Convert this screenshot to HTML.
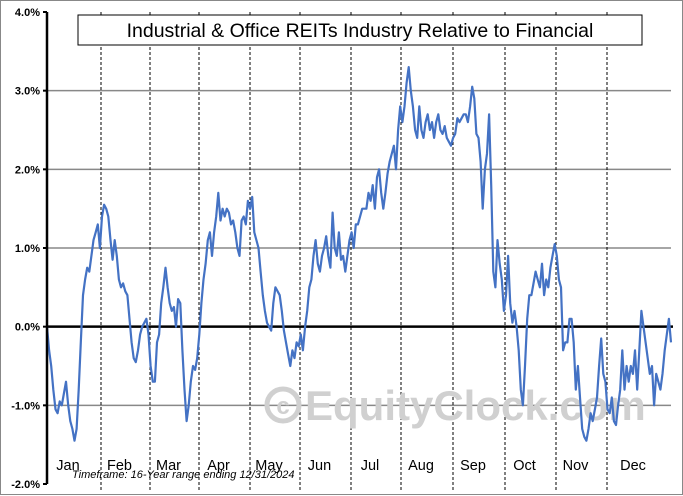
<!DOCTYPE html>
<html><head><meta charset="utf-8"><style>
body{margin:0;background:#fff;}
svg{display:block;font-family:"Liberation Sans",Arial,sans-serif;}
</style></head><body>
<svg id="chart" width="683" height="496">
<rect x="0.5" y="0.5" width="682" height="494" fill="#fff" stroke="#888"/>
<g id="grid"></g>
<g>
<circle cx="283" cy="405" r="16" fill="none" stroke="#d0d0d0" stroke-width="5"/>
<text x="283" y="414" font-size="24" font-weight="bold" fill="#d0d0d0" text-anchor="middle">c</text>
<text x="305" y="420" font-size="42" font-weight="bold" fill="#d0d0d0">EquityClock.com</text>
</g>
<g id="series"></g>
<g id="axes"></g>
<rect x="78" y="15" width="564" height="30" fill="#fff" stroke="#000"/>
<text x="360" y="37" font-size="19.5" text-anchor="middle" fill="#000">Industrial &amp; Office REITs Industry Relative to Financial</text>
<text x="72" y="478" font-size="11" font-style="italic" fill="#000">Timeframe:  16-Year range ending 12/31/2024</text>
</svg>
<script>
const months=["Jan","Feb","Mar","Apr","May","Jun","Jul","Aug","Sep","Oct","Nov","Dec"];
const yTicks=[4,3,2,1,0,-1,-2];
const yTickLabels=["4.0%","3.0%","2.0%","1.0%","0.0%","-1.0%","-2.0%"];
const values=[0,-0.3,-0.5,-0.8,-1.05,-1.1,-0.95,-1.0,-0.85,-0.7,-1.0,-1.2,-1.3,-1.45,-1.3,-0.8,-0.2,0.4,0.6,0.75,0.7,0.9,1.1,1.2,1.3,1.0,1.4,1.55,1.5,1.4,
1.1,0.85,1.1,0.9,0.6,0.5,0.55,0.45,0.4,0.1,-0.2,-0.4,-0.45,-0.3,-0.1,0.0,0.05,0.1,-0.1,-0.5,-0.7,-0.7,
-0.2,-0.1,0.3,0.5,0.75,0.5,0.3,0.2,0.25,0.0,0.35,0.3,-0.3,-0.8,-1.2,-1.0,-0.7,-0.5,-0.55,-0.4,-0.1,0.3,
0.6,0.8,1.1,1.2,0.9,1.2,1.4,1.7,1.35,1.5,1.4,1.5,1.45,1.3,1.35,1.2,1.0,0.9,1.35,1.4,1.3,1.6,1.5,1.65,
1.2,1.1,1.0,0.7,0.4,0.2,0.05,0.0,-0.05,0.3,0.5,0.45,0.4,0.2,-0.05,-0.2,-0.35,-0.5,-0.3,-0.4,-0.2,-0.25,-0.1,
-0.3,0.0,0.2,0.5,0.6,0.9,1.1,0.8,0.7,0.9,1.0,1.15,0.9,0.75,1.45,1.0,0.9,1.2,0.85,0.9,0.7,0.9,1.1,1.2,1.0,
1.3,1.3,1.4,1.5,1.5,1.5,1.7,1.6,1.8,1.5,1.9,2.0,1.7,1.5,1.7,1.95,2.1,2.2,2.3,2.0,2.5,2.8,2.6,2.8,
3.1,3.3,3.0,2.8,2.5,2.4,2.8,2.5,2.4,2.6,2.7,2.5,2.6,2.4,2.6,2.7,2.5,2.45,2.55,2.4,2.35,2.3,2.4,2.45,2.65,2.6,
2.65,2.7,2.7,2.6,2.8,3.05,2.9,2.45,2.4,2.1,1.5,2.0,2.2,2.7,1.8,0.7,0.5,1.1,0.8,0.6,0.2,0.4,0.9,0.3,0.05,
0.2,0.0,-0.3,-0.8,-1.0,-0.5,0.1,0.4,0.4,0.55,0.7,0.6,0.5,0.8,0.4,0.6,0.5,0.75,0.9,1.05,0.9,0.6,0.5,-0.3,-0.2,
-0.2,0.1,0.1,-0.2,-0.8,-0.5,-0.9,-1.3,-1.4,-1.45,-1.3,-1.1,-1.2,-1.05,-0.9,-0.5,-0.15,-0.6,-0.7,-1.05,-1.1,-0.9,-1.2,-1.25,-1.0,
-0.8,-0.3,-0.8,-0.5,-0.7,-0.5,-0.6,-0.3,-0.8,-0.3,0.2,0.0,-0.2,-0.4,-0.6,-0.5,-1.0,-0.6,-0.7,-0.8,-0.6,-0.3,-0.1,0.1,-0.2];
const NS="http://www.w3.org/2000/svg";
const X0=47,X1=671,Y0=12,Y1=484,VMAX=4,VMIN=-2;
const monthBounds=[47,101,150,199,250,300,351,401,453,505,556,607,671];
function y(v){return Y0+(VMAX-v)/(VMAX-VMIN)*(Y1-Y0);}
function x(i){return X0+i/(values.length-1)*(X1-X0);}
function mk(t,a,p){const e=document.createElementNS(NS,t);for(const k in a)e.setAttribute(k,a[k]);p.appendChild(e);return e;}
const grid=document.getElementById('grid'),axes=document.getElementById('axes'),series=document.getElementById('series');
yTicks.forEach((v,i)=>{
 if(v!==0&&v!==4&&v!==-2){const l=mk('line',{x1:X0,x2:X1,y1:y(v),y2:y(v),stroke:'#888','stroke-width':1.5},grid);
 
 }
 const t=mk('text',{x:40,y:y(v)+4,'font-size':11,'font-weight':'bold','text-anchor':'end',fill:'#000'},axes);
 t.textContent=yTickLabels[i];
 
 
 mk('line',{x1:X0-4,x2:X0,y1:y(v),y2:y(v),stroke:'#000','stroke-width':2},axes);
});
months.forEach((m,i)=>{
 if(i>0){const l=mk('line',{x1:monthBounds[i],x2:monthBounds[i],y1:Y0,y2:Y1+7,stroke:'#000','stroke-width':1,'stroke-dasharray':'3,2'},grid);
 
 }
 const t=mk('text',{x:(monthBounds[i]+monthBounds[i+1])/2-6,y:470,'font-size':14.5,'text-anchor':'middle',fill:'#000'},axes);
 t.textContent=m;
 
 
});
const zl=mk('line',{x1:X0,x2:X1+2,y1:y(0),y2:y(0),stroke:'#000','stroke-width':2.5},grid);


const ya=mk('line',{x1:X0,x2:X0,y1:Y0,y2:Y1,stroke:'#000','stroke-width':2.5},axes);


const p=mk('path',{d:values.map((v,i)=>(i?'L':'M')+x(i).toFixed(1)+','+y(v).toFixed(1)).join(''),fill:'none',stroke:'#4472c4','stroke-width':2.2,'stroke-linejoin':'round'},series);


</script>
</body></html>
